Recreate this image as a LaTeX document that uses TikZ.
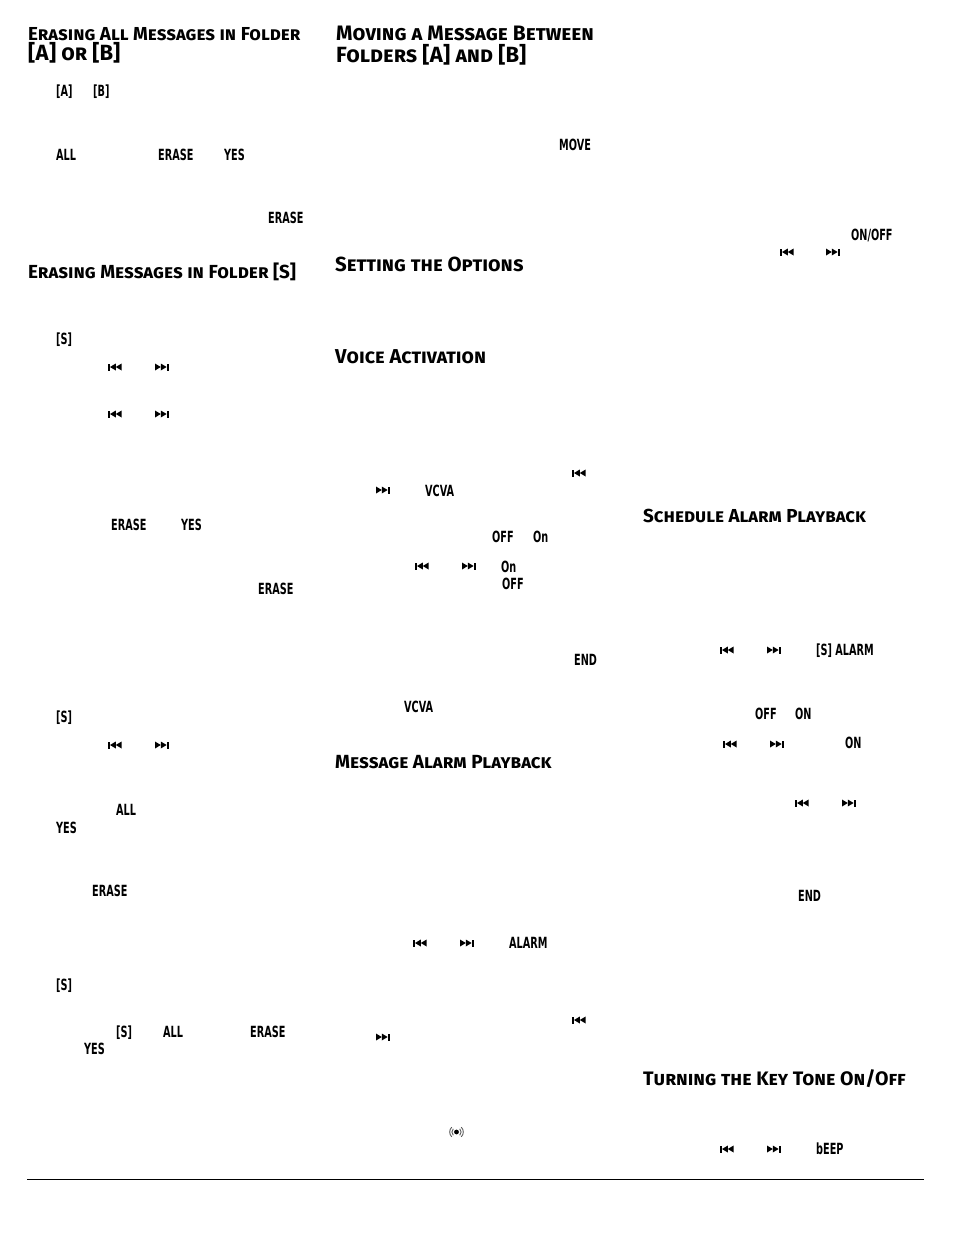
\documentclass[tikz,border=0pt]{standalone}
\usepackage{fontspec}
\newfontfamily\headfont[Letters=SmallCaps]{Fira Sans}
\newfontfamily\lcdfont[FakeStretch=0.63]{DejaVu Sans}
\tikzset{
	headline/.style={anchor=base west, inner sep=0pt, yshift=-7pt, font=\headfont\bfseries\fontsize{#1}{22}\selectfont},
	lcd/.style={anchor=base west, inner sep=0pt, yshift=-5.5pt, font=\lcdfont\bfseries\fontsize{15.4}{16}\selectfont},
	skipback/.pic={
		\fill (0,-3.5) rectangle (1.5,3.5);
		\fill (2,0) -- (7.8,-3.5) -- (7.8,3.5) -- cycle;
		\fill (7.8,0) -- (13.6,-3.5) -- (13.6,3.5) -- cycle;
	},
	skipfwd/.pic={
		\fill (0,-3.5) -- (5.8,0) -- (0,3.5) -- cycle;
		\fill (5.8,-3.5) -- (11.6,0) -- (5.8,3.5) -- cycle;
		\fill (12.1,-3.5) rectangle (13.6,3.5);
	},
	signal/.pic={
		\fill (0,0) circle (2.4);
		\draw [line width=0.9pt, black!65] (135:4.6) arc (135:225:4.6);
		\draw [line width=0.9pt, black!65] (135:6.8) arc (135:225:6.8);
		\draw [line width=0.9pt, black!65] (45:4.6) arc (45:-45:4.6);
		\draw [line width=0.9pt, black!65] (45:6.8) arc (45:-45:6.8);
	}
}
\begin{document}
\begin{tikzpicture}[x=1pt, y=-1pt]
	\useasboundingbox (0,0) rectangle (954,1235);
	% headings
	\node [headline=18.8] (allone) at (28,33) {Erasing All Messages in Folder};
	\node [headline=22] (alltwo) at (28,53) {[A] or [B]};
	\node [headline=18.9] (eraseS) at (28,271) {Erasing Messages in Folder [S]};
	\node [headline=20.9] (moveone) at (336,33) {Moving a Message Between};
	\node [headline=22] (movetwo) at (336,55) {Folders [A] and [B]};
	\node [headline=20.4] (options) at (335,264) {Setting the Options};
	\node [headline=20.1] (voice) at (335,356) {Voice Activation};
	\node [headline=19] (msgalarm) at (335,761) {Message Alarm Playback};
	\node [headline=18.8] (schedalarm) at (643,515) {Schedule Alarm Playback};
	\node [headline=19.5] (keytone) at (643,1078) {Turning the Key Tone On/Off};
	% first column
	\node [lcd] (a1) at (56,91) {[A]};
	\node [lcd] (b1) at (93,91) {[B]};
	\node [lcd] (all1) at (56,155) {ALL};
	\node [lcd] (erase1) at (158,155) {ERASE};
	\node [lcd] (yes1) at (224,155) {YES};
	\node [lcd] (erase2) at (268,218) {ERASE};
	\node [lcd] (s1) at (56,339) {[S]};
	\pic at (108,367) {skipback};
	\pic at (155,367) {skipfwd};
	\pic at (108,414) {skipback};
	\pic at (155,414) {skipfwd};
	\node [lcd] (erase3) at (111,525) {ERASE};
	\node [lcd] (yes2) at (181,525) {YES};
	\node [lcd] (erase4) at (258,589) {ERASE};
	\node [lcd] (s2) at (56,717) {[S]};
	\pic at (108,745) {skipback};
	\pic at (155,745) {skipfwd};
	\node [lcd] (all2) at (116,810) {ALL};
	\node [lcd] (yes3) at (56,828) {YES};
	\node [lcd] (erase5) at (92,891) {ERASE};
	\node [lcd] (s3) at (56,985) {[S]};
	\node [lcd] (s4) at (116,1032) {[S]};
	\node [lcd] (all3) at (163,1032) {ALL};
	\node [lcd] (erase6) at (250,1032) {ERASE};
	\node [lcd] (yes4) at (84,1049) {YES};
	% second column
	\node [lcd] (move) at (559,145) {MOVE};
	\pic at (572,473) {skipback};
	\pic at (376,490) {skipfwd};
	\node [lcd] (vcva1) at (425,491) {VCVA};
	\node [lcd] (off1) at (492,537) {OFF};
	\node [lcd] (on1) at (533,537) {On};
	\pic at (415,566) {skipback};
	\pic at (462,566) {skipfwd};
	\node [lcd] (on2) at (501,567) {On};
	\node [lcd] (off2) at (502,584) {OFF};
	\node [lcd] (end1) at (574,660) {END};
	\node [lcd] (vcva2) at (404,707) {VCVA};
	\pic at (413,943) {skipback};
	\pic at (460,943) {skipfwd};
	\node [lcd] (alarm1) at (509,943) {ALARM};
	\pic at (572,1020) {skipback};
	\pic at (376,1037) {skipfwd};
	\pic at (456.5,1132) {signal};
	% third column
	\node [lcd] (onoff) at (851,235) {ON/OFF};
	\pic at (780,252) {skipback};
	\pic at (826,252) {skipfwd};
	\pic at (720,650) {skipback};
	\pic at (767,650) {skipfwd};
	\node [lcd] (alarm2) at (816,650) {[S] ALARM};
	\node [lcd] (off3) at (755,714) {OFF};
	\node [lcd] (on3) at (795,714) {ON};
	\pic at (723,744) {skipback};
	\pic at (770,744) {skipfwd};
	\node [lcd] (on4) at (845,743) {ON};
	\pic at (795,803) {skipback};
	\pic at (842,803) {skipfwd};
	\node [lcd] (end2) at (798,896) {END};
	\pic at (720,1149) {skipback};
	\pic at (767,1149) {skipfwd};
	\node [lcd] (beep) at (816,1149) {bEEP};
	% foot rule
	\draw [line width=1pt] (27,1179) -- (924,1179);
\end{tikzpicture}
\end{document}
